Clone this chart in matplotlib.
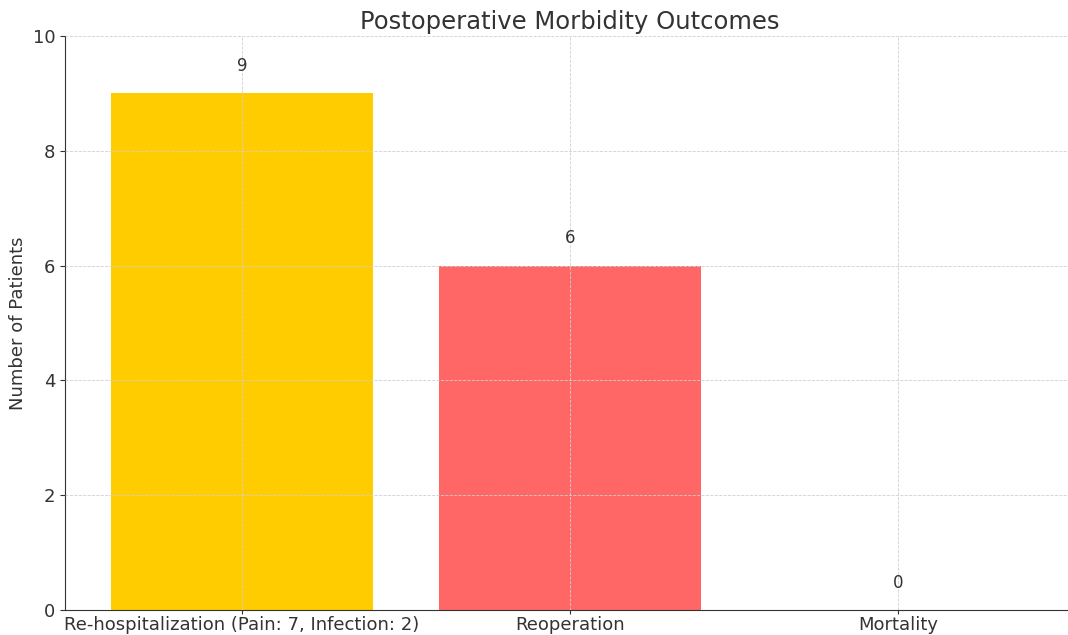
import matplotlib
matplotlib.use("Agg")
import matplotlib.pyplot as plt

categories = ["Re-hospitalization (Pain: 7, Infection: 2)", "Reoperation", "Mortality"]
patients = [9, 6, 0]
colors = ["#FFCC00", "#FF6666", "#66B3FF"]

txt = "#333333"
plt.rcParams["font.family"] = ["DejaVu Sans"]
plt.rcParams["text.color"] = txt
plt.rcParams["axes.labelcolor"] = txt
plt.rcParams["xtick.color"] = txt
plt.rcParams["ytick.color"] = txt

fig = plt.figure(figsize=(10.68, 6.35), dpi=100)
ax = fig.add_axes([65 / 1068, 25 / 635, 1010 / 1068, 574 / 635])

bars = ax.bar(categories, patients, color=colors, width=0.8)
for b, v in zip(bars, patients):
    ax.text(b.get_x() + b.get_width() / 2, v + 0.32, str(v),
            ha="center", va="bottom", fontsize=12, color=txt)

ax.set_ylim(0, 10)
ax.set_title("Postoperative Morbidity Outcomes", fontsize=17.5, color=txt, pad=5)
ax.set_ylabel("Number of Patients", fontsize=13)
ax.tick_params(axis="both", labelsize=13)
ax.tick_params(axis="x", pad=1, length=3)
ax.grid(True, linestyle="--", color="#d0d0d0", linewidth=0.6)
ax.set_axisbelow(False)
ax.spines["top"].set_visible(False)
ax.spines["right"].set_visible(False)
ax.spines["left"].set_color(txt)
ax.spines["bottom"].set_color(txt)

fig.savefig("out.png", dpi=100)
